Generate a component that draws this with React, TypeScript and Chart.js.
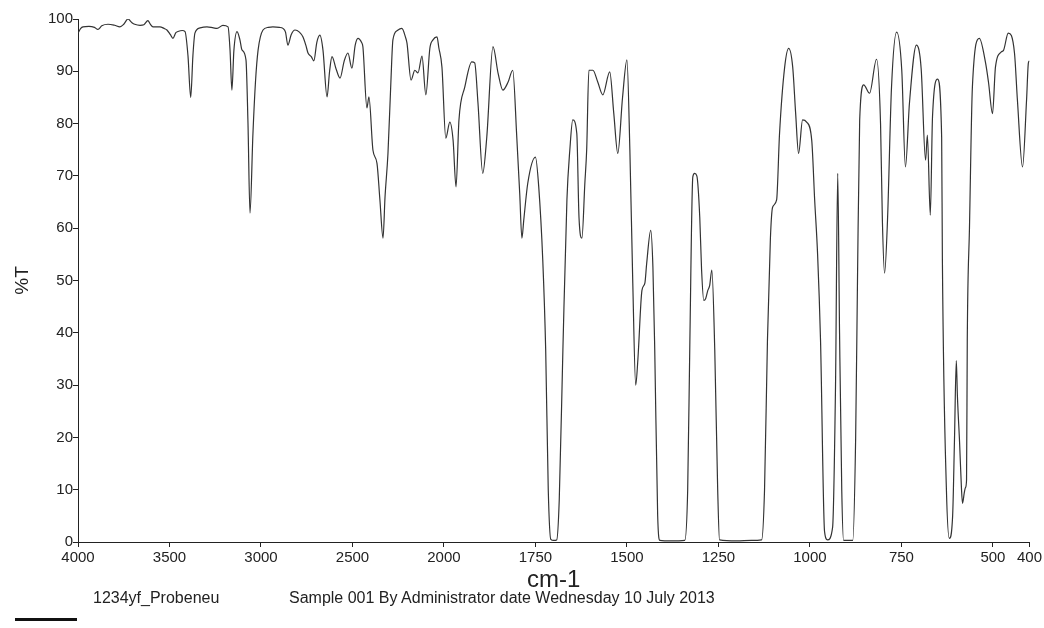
import React, { useEffect, useRef } from "react";
import { Chart, registerables } from "chart.js";

Chart.register(...registerables);

// Infrared spectrum of sample 1234yf_Probeneu: wavenumber (cm-1) vs. transmittance (%T)
const wavenumbers: number[] = [
  4000, 3985, 3973, 3940, 3910, 3891, 3870, 3836, 3800, 3771, 3750, 3727, 3705, 3690, 3661, 3640,
  3618, 3605, 3590, 3552, 3530, 3514, 3495, 3481, 3465, 3454, 3430, 3415, 3399, 3384, 3372, 3361,
  3333, 3295, 3260, 3240, 3208, 3180, 3169, 3159, 3148, 3131, 3115, 3104, 3082, 3071, 3060, 3044,
  3030, 3016, 2989, 2960, 2935, 2900, 2880, 2866, 2853, 2835, 2814, 2790, 2771, 2755, 2743, 2725,
  2711, 2695, 2678, 2661, 2639, 2625, 2612, 2590, 2568, 2545, 2525, 2503, 2485, 2470, 2450, 2443,
  2421, 2410, 2388, 2366, 2350, 2333, 2322, 2306, 2290, 2279, 2255, 2230, 2210, 2202, 2180, 2159,
  2142, 2120, 2099, 2077, 2060, 2038, 2028, 2011,
  1995, 1984, 1975, 1967, 1959, 1943, 1924, 1916, 1907, 1894, 1883, 1866, 1852, 1839, 1825, 1812,
  1801, 1793, 1787, 1782, 1771, 1750, 1741, 1730, 1722, 1715, 1708, 1700, 1692, 1685, 1675, 1664,
  1656, 1648, 1637, 1631, 1623, 1615, 1610, 1604, 1593, 1580, 1566, 1547, 1536, 1525, 1512, 1500,
  1492, 1484, 1476, 1470, 1459, 1451, 1446, 1435, 1429, 1424, 1416, 1410, 1380, 1342, 1334, 1328,
  1320, 1315, 1309, 1301, 1296, 1290, 1285, 1279, 1274, 1268, 1260, 1252, 1247, 1200, 1160, 1132,
  1124, 1116, 1108, 1102, 1091, 1083, 1069, 1058, 1047, 1039, 1031, 1020, 1009, 995, 987, 979,
  971, 960, 952, 938, 930, 924, 919, 913, 908, 883, 875, 870, 864, 853, 837, 818,
  807, 802, 796, 788, 777, 763, 749, 739, 728, 709, 696, 684, 679, 671, 665, 651,
  640, 638, 627, 619, 610, 605, 600, 597, 591, 586, 583, 578, 575, 572, 570, 564,
  556, 537, 520, 512, 501, 493, 477, 471, 458, 441, 433, 419, 408, 403, 400,
];

const transmittance: number[] = [
  97.3, 98.2, 98.5, 98.6, 98.4, 98.0, 98.7, 99.0, 98.8, 98.5, 99.0, 100.0, 99.3, 99.0, 98.8, 98.9,
  99.7, 99.0, 98.5, 98.5, 98.2, 97.9, 97.0, 96.3, 97.4, 97.6, 97.8, 97.6, 93.0, 85.0, 93.0, 97.3,
  98.3, 98.5, 98.3, 98.2, 98.8, 98.5, 94.0, 86.4, 94.0, 97.6, 96.0, 94.1, 92.2, 80.0, 62.9, 78.0,
  88.0, 94.0, 97.9, 98.4, 98.5, 98.4, 98.2, 97.5, 95.0, 97.0, 97.9, 97.5, 96.6, 95.0, 93.5, 92.8,
  92.0, 95.5, 96.9, 94.0, 85.1, 90.0, 92.8, 90.5, 88.7, 92.0, 93.5, 90.6, 95.0, 96.3, 95.5, 94.7,
  83.0, 85.1, 74.9, 72.4, 65.4, 58.1, 66.0, 74.3, 88.0, 96.0, 97.8, 98.2, 96.5, 95.4, 88.3, 90.2,
  89.7, 92.9, 85.5, 94.4, 96.0, 96.6, 94.5, 90.8,
  77.2, 80.3, 76.8, 67.9, 80.7, 87.0, 91.8, 91.6, 83.9, 70.5, 77.4, 94.7, 89.6, 86.4, 87.9, 90.2,
  77.4, 66.7, 58.1, 61.5, 68.6, 73.6, 67.9, 53.9, 36.7, 10.0, 0.5, 0.3, 0.4, 8.0, 36.7, 65.4,
  75.0, 80.7, 78.1, 62.1, 58.1, 68.6, 75.0, 90.2, 90.2, 88.0, 85.5, 89.9, 82.0, 74.3, 85.0, 92.2,
  75.0, 49.5, 30.0, 35.0, 48.1, 49.5, 53.3, 59.6, 52.5, 36.7, 5.0, 0.3, 0.2, 0.3, 10.0, 38.6,
  69.8, 70.5, 70.0, 62.1, 52.0, 46.2, 46.5, 48.1, 49.0, 52.0, 36.7, 10.0, 0.4, 0.2, 0.3, 0.4,
  10.0, 38.6, 58.0, 64.0, 65.4, 78.1, 90.8, 94.4, 90.8, 82.0, 74.3, 80.7, 80.3, 76.8, 65.4, 55.0,
  38.6, 2.0, 0.4, 2.8, 30.0, 70.5, 40.0, 10.0, 0.3, 0.3, 20.0, 50.0, 80.7, 87.4, 85.8, 92.3,
  80.0, 61.5, 51.4, 61.5, 87.0, 97.5, 90.2, 71.7, 83.9, 95.0, 90.5, 73.0, 77.8, 62.5, 81.3, 88.5,
  77.4, 53.9, 10.0, 0.7, 5.0, 19.4, 34.7, 28.0, 19.0, 10.4, 7.4, 9.5, 10.4, 11.8, 38.6, 60.0,
  87.0, 96.3, 91.6, 87.9, 81.9, 90.8, 93.7, 94.0, 97.3, 93.5, 84.5, 71.7, 84.5, 91.6, 92.0,
];

const xTickValues: number[] = [4000, 3500, 3000, 2500, 2000, 1750, 1500, 1250, 1000, 750, 500, 400];
const yTickValues: number[] = [0, 10, 20, 30, 40, 50, 60, 70, 80, 90, 100];

const sampleName = "1234yf_Probeneu";
const sampleInfo = "Sample 001 By Administrator date Wednesday 10 July 2013";

// The wavenumber axis is drawn at half scale above 2000 cm-1 and full scale below it.
const SCALE_BREAK = 2000;
const toAxis = (wn: number): number =>
  wn >= SCALE_BREAK ? (4000 - wn) / 2 : (4000 - SCALE_BREAK) / 2 + (SCALE_BREAK - wn);
const fromAxis = (u: number): number =>
  u <= (4000 - SCALE_BREAK) / 2 ? 4000 - 2 * u : SCALE_BREAK - (u - (4000 - SCALE_BREAK) / 2);

const FONT = "'Liberation Sans', Arial, sans-serif";
const INK = "#222222";

export default function App() {
  const canvasRef = useRef<HTMLCanvasElement | null>(null);

  useEffect(() => {
    const canvas = canvasRef.current;
    if (!canvas) return;

    const points = wavenumbers.map((wn, i) => ({ x: toAxis(wn), y: transmittance[i] }));

    const chart = new Chart(canvas, {
      type: "line",
      data: {
        datasets: [
          {
            label: sampleName,
            data: points,
            borderColor: "#333333",
            borderWidth: 1.2,
            pointRadius: 0,
            fill: false,
            cubicInterpolationMode: "monotone",
          },
        ],
      },
      options: {
        responsive: false,
        animation: false,
        events: [],
        layout: { padding: { top: 19, right: 14, bottom: 0, left: 0 } },
        plugins: {
          legend: { display: false },
          tooltip: { enabled: false },
          title: { display: false },
        },
        scales: {
          x: {
            type: "linear",
            min: toAxis(4000),
            max: toAxis(400),
            afterFit: (scale: any) => {
              scale.height = 86;
            },
            afterBuildTicks: (scale: any) => {
              scale.ticks = xTickValues.map((wn) => ({ value: toAxis(wn) }));
            },
            ticks: {
              autoSkip: false,
              maxRotation: 0,
              padding: 2,
              color: INK,
              font: { family: FONT, size: 15 },
              callback: (value: any) => String(Math.round(fromAxis(Number(value)))),
            },
            grid: {
              display: true,
              drawOnChartArea: false,
              drawTicks: true,
              tickLength: 5,
              color: INK,
            },
            border: { display: true, color: INK, width: 1 },
            title: {
              display: true,
              text: "cm-1",
              color: INK,
              font: { family: FONT, size: 24 },
              padding: { top: 0, bottom: 33 },
            },
          },
          y: {
            type: "linear",
            min: 0,
            max: 100,
            afterFit: (scale: any) => {
              scale.width = 78;
            },
            afterBuildTicks: (scale: any) => {
              scale.ticks = yTickValues.map((v) => ({ value: v }));
            },
            ticks: {
              padding: 0,
              color: INK,
              font: { family: FONT, size: 15 },
            },
            grid: {
              display: true,
              drawOnChartArea: false,
              drawTicks: true,
              tickLength: 5,
              color: INK,
            },
            border: { display: true, color: INK, width: 1 },
            title: {
              display: true,
              text: "%T",
              color: INK,
              font: { family: FONT, size: 19 },
              padding: { top: 11, bottom: 0 },
            },
          },
        },
      },
    });

    return () => chart.destroy();
  }, []);

  return (
    <div
      style={{
        position: "absolute",
        left: 0,
        top: 0,
        width: 1044,
        height: 628,
        background: "#ffffff",
        overflow: "hidden",
      }}
    >
      <canvas ref={canvasRef} width={1044} height={628} style={{ display: "block" }} />
      <div
        style={{
          position: "absolute",
          left: 15,
          top: 618,
          width: 62,
          height: 3,
          background: "#111111",
        }}
      />
      <div
        style={{
          position: "absolute",
          left: 93,
          top: 590,
          fontFamily: FONT,
          fontSize: 16,
          lineHeight: "16px",
          color: INK,
          whiteSpace: "nowrap",
        }}
      >
        {sampleName}
      </div>
      <div
        style={{
          position: "absolute",
          left: 289,
          top: 590,
          fontFamily: FONT,
          fontSize: 16,
          lineHeight: "16px",
          color: INK,
          whiteSpace: "nowrap",
        }}
      >
        {sampleInfo}
      </div>
    </div>
  );
}
